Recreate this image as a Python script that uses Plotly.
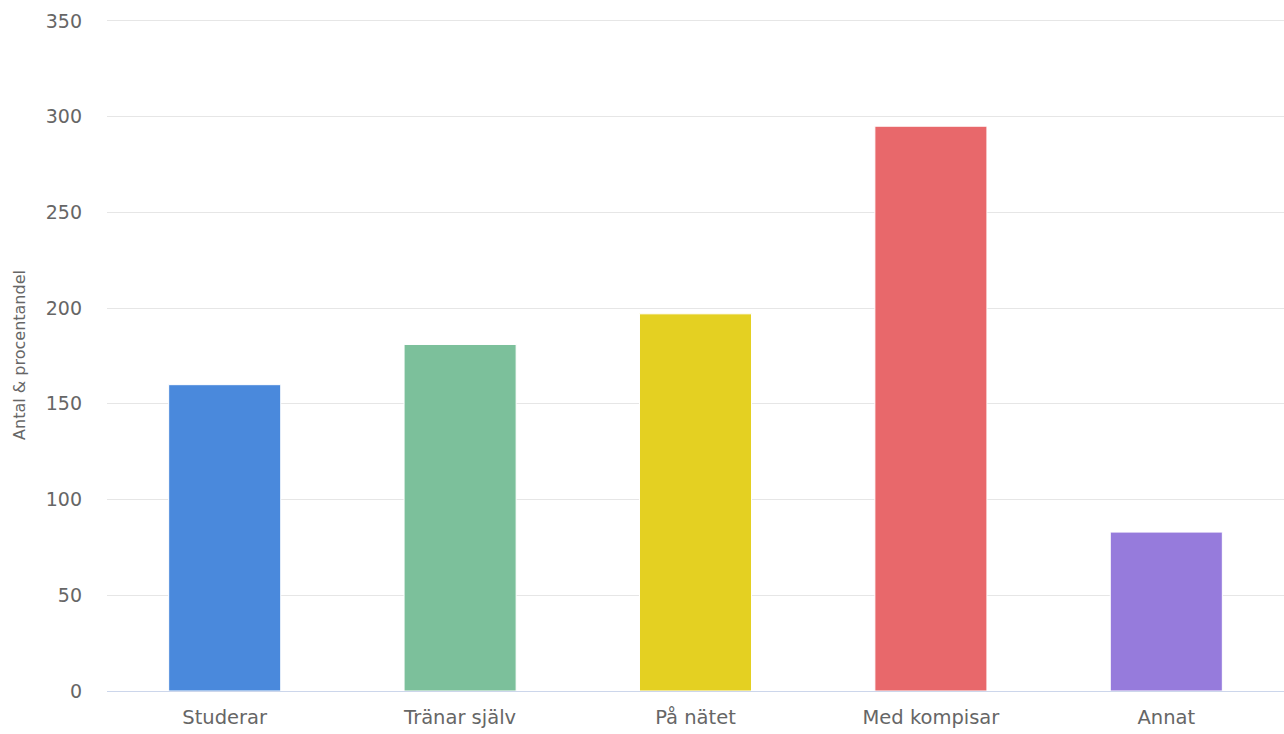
import plotly.graph_objects as go

# Data
categories = ["Studerar", "Tränar själv", "På nätet", "Med kompisar", "Annat"]
values = [160, 181, 197, 295, 83]
colors = ["#4a89dc", "#7cc09b", "#e4d022", "#e8686b", "#967bdc"]

fig = go.Figure()
fig.add_trace(go.Bar(
    x=categories, y=values,
    marker=dict(color=colors, line=dict(color="white", width=1)),
    showlegend=False,
))

fig.update_layout(
    width=1284, height=734,
    margin=dict(l=107, r=0, t=19, b=43),
    plot_bgcolor="white", paper_bgcolor="white",
    bargap=0.524,
    font=dict(family="DejaVu Sans", color="#666666"),
)

fig.update_yaxes(
    range=[0, 351], dtick=50,
    gridcolor="#e6e6e6", gridwidth=1,
    zeroline=False, showline=False,
    tickfont=dict(size=19, color="#666666"),
    ticklabelstandoff=24,
    automargin=False,
    title=dict(text="Antal & procentandel", font=dict(size=16, color="#666666"), standoff=16),
)
fig.update_xaxes(
    showline=True, linecolor="#ccd6eb", linewidth=1,
    showgrid=False, ticks="",
    tickfont=dict(size=19.5, color="#666666"),
    ticklabelstandoff=9,
    automargin=False,
)

# drop the page's default body margin so the figure sits at the window's corner
fig.write_html("out.html", config={"displayModeBar": False},
               post_script="document.body.style.margin='0';document.body.style.overflow='hidden';")
